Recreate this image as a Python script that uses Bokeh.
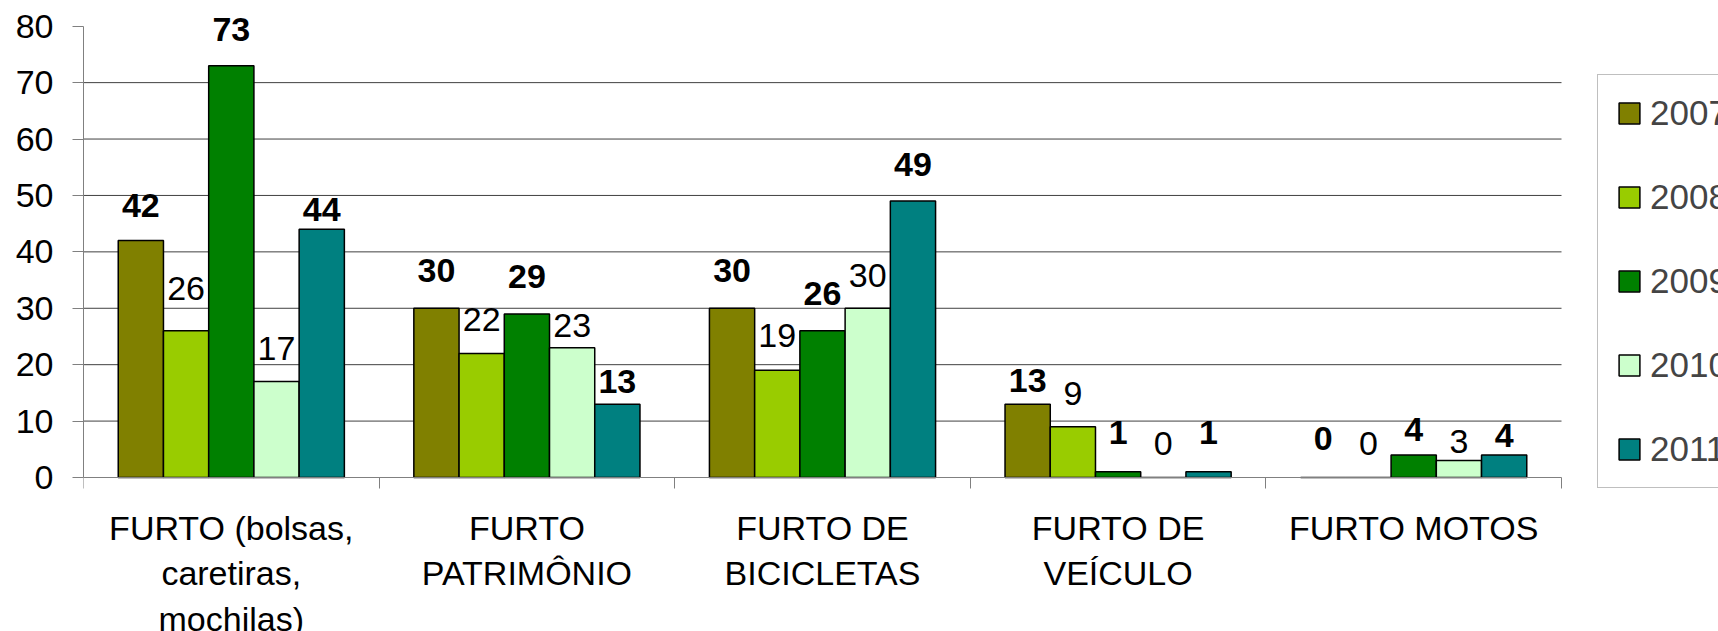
from bokeh.plotting import figure
from bokeh.models import (ColumnDataSource, Range1d, FixedTicker, Legend, LegendItem)
from bokeh.core.properties import value
from bokeh.embed import file_html
from bokeh.resources import INLINE

# ---------------- data ----------------
categories = ["FURTO (bolsas,\ncaretiras,\nmochilas)", "FURTO\nPATRIMÔNIO",
              "FURTO DE\nBICICLETAS", "FURTO DE\nVEÍCULO", "FURTO MOTOS"]
years = ["2007", "2008", "2009", "2010", "2011"]
v2007 = [42, 30, 30, 13, 0]
v2008 = [26, 22, 19, 9, 0]
v2009 = [73, 29, 26, 1, 4]
v2010 = [17, 23, 30, 0, 3]
v2011 = [44, 13, 49, 1, 4]
series = [v2007, v2008, v2009, v2010, v2011]
y_ticks = [0, 10, 20, 30, 40, 50, 60, 70, 80]

# label nudges (pixels above the bar top) – styling only
nudge = [
    [23, 26, 26, 12, 27],
    [30, 22, 23, 21, 22],
    [24, 25, 25, 27, 13],
    [21, 10, 21, 22, 7],
    [8, 11, 25, 27, 7],
]
BASE_NUDGE = 12
colors = ["#808000", "#99CC00", "#008000", "#CCFFCC", "#008080"]
bold = [True, False, True, False, True]

FONT = "Liberation Sans"
FS = "34px"
BW = 0.153
NCAT = len(categories)
X_END = NCAT * 1635 / 1478      # room on the right for the legend
PX_PER_UNIT = 5.641
Y_START = -(631 - 477) / PX_PER_UNIT   # room below zero for the category labels
Y_END = (477 - 8) / PX_PER_UNIT

p = figure(width=1718, height=631, x_range=Range1d(0, X_END), y_range=Range1d(Y_START, Y_END),
           output_backend="svg", toolbar_location=None, title=None,
           min_border_left=83, min_border_right=0, min_border_top=8, min_border_bottom=0)
p.outline_line_color = None
p.background_fill_color = "white"
p.border_fill_color = "white"
p.xgrid.visible = False
p.ygrid.visible = False

# horizontal grid lines, only across the category area
grid_y = y_ticks[1:-1]
p.segment(x0=[0] * len(grid_y), x1=[NCAT] * len(grid_y), y0=grid_y, y1=grid_y,
          line_color="#404040", line_width=1)

items = []
for j, vals in enumerate(series):
    xs = [i + 0.5 + (j - 2) * BW for i in range(NCAT)]
    src = ColumnDataSource(dict(x=xs, top=vals, lab=[str(v) for v in vals],
                                dy=[-(d + BASE_NUDGE) for d in nudge[j]]))
    r = p.vbar(x="x", top="top", bottom=0, width=BW, source=src,
               fill_color=colors[j], line_color="black", line_width=1.5)
    items.append(LegendItem(label=years[j], renderers=[r]))
    p.text(x="x", y="top", text="lab", y_offset="dy", source=src,
           text_align="center", text_baseline="alphabetic",
           text_font=value(FONT), text_font_size=FS,
           text_font_style="bold" if bold[j] else "normal", text_color="black")

# y axis
ya = p.yaxis[0]
ya.ticker = FixedTicker(ticks=y_ticks)
ya.bounds = (0, 80)
ya.axis_line_color = "#808080"
ya.major_tick_line_color = "#808080"
ya.major_tick_out = 11
ya.major_tick_in = 0
ya.minor_tick_line_color = None
ya.major_label_standoff = 19
ya.major_label_text_font = FONT
ya.major_label_text_font_size = FS
ya.major_label_text_color = "black"

# x axis, drawn at y = 0
xa = p.xaxis[0]
centers = [i + 0.5 for i in range(NCAT)]
xa.ticker = FixedTicker(ticks=centers, minor_ticks=list(range(NCAT + 1)))
xa.bounds = (0, NCAT)
xa.fixed_location = 0
xa.major_label_overrides = {c: lab for c, lab in zip(centers, categories)}
xa.axis_line_color = "#808080"
xa.major_tick_out = 0
xa.major_tick_in = 0
xa.major_tick_line_color = None
xa.minor_tick_line_color = "#808080"
xa.minor_tick_out = 11
xa.minor_tick_in = 0
xa.major_label_standoff = 20
xa.major_label_text_font = FONT
xa.major_label_text_font_size = FS
xa.major_label_text_color = "black"
xa.major_label_text_line_height = 1.2

legend = Legend(items=items, location=(1514, 143), orientation="vertical",
                padding=18, spacing=44, margin=0, label_standoff=8,
                glyph_width=26, glyph_height=26,
                label_text_font=FONT, label_text_font_size="35px",
                border_line_color="#7f7f7f", border_line_width=1,
                background_fill_color="white", background_fill_alpha=1.0)
p.add_layout(legend, "center")

open("out.html", "w").write(file_html(p, INLINE))
